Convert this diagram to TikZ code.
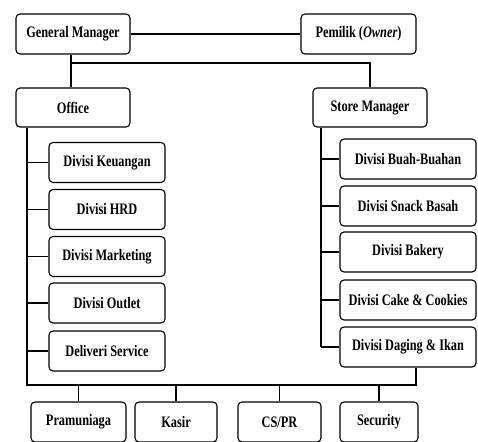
\documentclass[tikz,border=0pt]{standalone}
\usepackage{fontspec}
\setmainfont{Liberation Serif}[FakeStretch=0.77]
\begin{document}
\begin{tikzpicture}[x=1pt,y=-1pt,
  box/.style={draw,line width=1.1pt,rounded corners=4pt,inner sep=0pt,minimum height=40pt,font=\fontsize{16}{17}\selectfont\bfseries},
  conn/.style={line width=1.1pt}]
\useasboundingbox (0,0) rectangle (478,441);
\clip (0,0) rectangle (478,441);
\node[box,minimum width=114pt] (gm) at (73,34) {General Manager};
\node[box,minimum width=115pt] (own) at (358.5,34) {Pemilik (\textit{Owner})};
\node[box,minimum width=114pt,minimum height=39pt] (off) at (73,107.5) {Office};
\node[box,minimum width=114pt,minimum height=39pt] (sm) at (370,107.5) {Store Manager};
\node[box,minimum width=116pt] (d1) at (107,162.5) {Divisi Keuangan};
\node[box,minimum width=116pt] (d2) at (107,209.5) {Divisi HRD};
\node[box,minimum width=116pt] (d3) at (107,256.5) {Divisi Marketing};
\node[box,minimum width=116pt] (d4) at (107,303) {Divisi Outlet};
\node[box,minimum width=116pt] (d5) at (107,351) {Deliveri Service};
\node[box,minimum width=136pt] (r1) at (408,159) {Divisi Buah-Buahan};
\node[box,minimum width=136pt] (r2) at (408,206) {Divisi Snack Basah};
\node[box,minimum width=136pt] (r3) at (408,252) {Divisi Bakery};
\node[box,minimum width=136pt] (r4) at (408,300) {Divisi Cake \& Cookies};
\node[box,minimum width=136pt] (r5) at (408,347) {Divisi Daging \& Ikan};
\node[box,minimum width=95pt] (b1) at (78.5,422) {Pramuniaga};
\node[box,minimum width=82pt] (b2) at (176,422) {Kasir};
\node[box,minimum width=83pt] (b3) at (279.5,422) {CS/PR};
\node[box,minimum width=78pt] (b4) at (379,422) {Security};
\coordinate (lx) at (27,385);
\coordinate (rx) at (321,0);
\coordinate (jx) at (416,385);
\coordinate (j1) at (71,63);
\draw[conn] (gm.east) -- (own.west);
\draw[conn] (gm.south -| j1) -- (off.north -| j1);
\draw[conn] (j1) -| (sm.north);
\draw[conn] (off.south -| lx) -- (lx) -- (jx) -- (r5.south -| jx);
\foreach \n in {d1,d2,d3,d4,d5}{\draw[conn] (\n.west -| lx) -- (\n.west);}
\draw[conn] (sm.south -| rx) -- (r5.west -| rx);
\foreach \n in {r1,r2,r3,r4,r5}{\draw[conn] (\n.west -| rx) -- (\n.west);}
\foreach \n in {b1,b2,b3,b4}{\draw[conn] (\n.north |- lx) -- (\n.north);}
\end{tikzpicture}
\end{document}
